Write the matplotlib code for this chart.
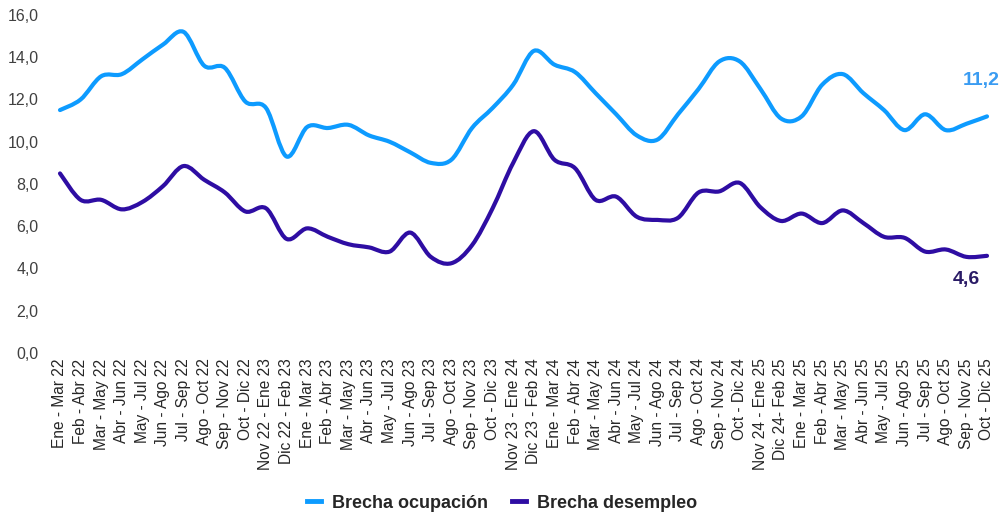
import numpy as np
import matplotlib
matplotlib.use("Agg")
import matplotlib.pyplot as plt
from matplotlib.path import Path
from matplotlib.patches import PathPatch
from matplotlib.lines import Line2D

plt.rcParams['font.family'] = ['Liberation Sans', 'DejaVu Sans']

# periods (rolling quarters)
periods = [
    "Ene - Mar 22", "Feb - Abr 22", "Mar - May 22", "Abr - Jun 22", "May - Jul 22",
    "Jun - Ago 22", "Jul - Sep 22", "Ago - Oct 22", "Sep - Nov 22", "Oct - Dic 22",
    "Nov 22 - Ene 23", "Dic 22 - Feb 23", "Ene - Mar 23", "Feb - Abr 23", "Mar - May 23",
    "Abr - Jun 23", "May - Jul 23", "Jun - Ago 23", "Jul - Sep 23", "Ago - Oct 23",
    "Sep - Nov 23", "Oct - Dic 23", "Nov 23 - Ene 24", "Dic 23 - Feb 24", "Ene - Mar 24",
    "Feb - Abr 24", "Mar - May 24", "Abr - Jun 24", "May - Jul 24", "Jun - Ago 24",
    "Jul - Sep 24", "Ago - Oct 24", "Sep - Nov 24", "Oct - Dic 24", "Nov 24 - Ene 25",
    "Dic 24- Feb 25", "Ene - Mar 25", "Feb - Abr 25", "Mar - May 25", "Abr - Jun 25",
    "May - Jul 25", "Jun - Ago 25", "Jul - Sep 25", "Ago - Oct 25", "Sep - Nov 25",
    "Oct - Dic 25",
]

brecha_ocupacion = [
    11.5, 12.0, 13.1, 13.2, 13.9, 14.6, 15.2, 13.6, 13.5, 11.9,
    11.6, 9.3, 10.7, 10.65, 10.8, 10.3, 10.0, 9.5, 9.0, 9.15,
    10.65, 11.6, 12.7, 14.3, 13.65, 13.3, 12.3, 11.3, 10.3, 10.1,
    11.3, 12.5, 13.8, 13.8, 12.5, 11.1, 11.2, 12.7, 13.2, 12.3,
    11.5, 10.55, 11.3, 10.55, 10.85, 11.2,
]

brecha_desempleo = [
    8.5, 7.25, 7.25, 6.8, 7.15, 7.9, 8.85, 8.2, 7.6, 6.7,
    6.85, 5.4, 5.9, 5.5, 5.15, 5.0, 4.8, 5.7, 4.55, 4.25,
    5.1, 6.85, 9.0, 10.5, 9.15, 8.75, 7.25, 7.4, 6.45, 6.3,
    6.4, 7.6, 7.65, 8.05, 6.9, 6.25, 6.6, 6.15, 6.75, 6.15,
    5.5, 5.45, 4.8, 4.9, 4.55, 4.6,
]

color_ocup = '#0D9BFF'
color_desemp = '#2E0DA3'


def smooth_path(x, y):
    # Catmull-Rom style bezier, like spreadsheet "smoothed line"
    pts = np.column_stack([x, y]).astype(float)
    n = len(pts)
    verts = [pts[0]]
    codes = [Path.MOVETO]
    for i in range(n - 1):
        p0 = pts[i - 1] if i > 0 else pts[i]
        p1 = pts[i]
        p2 = pts[i + 1]
        p3 = pts[i + 2] if i + 2 < n else pts[i + 1]
        c1 = p1 + (p2 - p0) / 6.0
        c2 = p2 - (p3 - p1) / 6.0
        verts += [c1, c2, p2]
        codes += [Path.CURVE4] * 3
    return Path(verts, codes)


fig = plt.figure(figsize=(10.05, 5.16), dpi=100)
ax = fig.add_axes([49.7 / 1005, 1 - 353 / 516, (997.3 - 49.7) / 1005, (353 - 15) / 516])

x = np.arange(len(periods))
for vals, col in [(brecha_ocupacion, color_ocup), (brecha_desempleo, color_desemp)]:
    patch = PathPatch(smooth_path(x, vals), facecolor='none', edgecolor=col,
                      linewidth=3.0, capstyle='round', joinstyle='round')
    ax.add_patch(patch)

ax.set_xlim(-0.5, len(periods) - 0.5)
ax.set_ylim(0, 16)
ax.set_yticks(np.arange(0, 17, 2))
ax.set_yticklabels([f"{v:.1f}".replace('.', ',') for v in np.arange(0, 17, 2)],
                   fontsize=11.5, color='#404040')
ax.set_xticks(x)
ax.set_xticklabels(periods, rotation=90, fontsize=11.2, color='#262626')
ax.tick_params(axis='both', length=0)
ax.tick_params(axis='x', pad=4)
ax.tick_params(axis='y', pad=8)
for s in ax.spines.values():
    s.set_visible(False)

# end labels
ax.annotate(f"{brecha_ocupacion[-1]:.1f}".replace('.', ','), (x[-1], brecha_ocupacion[-1]),
            xytext=(-4, 26), textcoords='offset points', ha='center', va='center',
            fontsize=14, fontweight='bold', color='#3A9CF2', annotation_clip=False)
ax.annotate(f"{brecha_desempleo[-1]:.1f}".replace('.', ','), (x[-1], brecha_desempleo[-1]),
            xytext=(-15, -17), textcoords='offset points', ha='center', va='center',
            fontsize=14, fontweight='bold', color='#2A1B66', annotation_clip=False)

handles = [Line2D([], [], color=color_ocup, linewidth=3.5),
           Line2D([], [], color=color_desemp, linewidth=3.5)]
leg = fig.legend(handles, ["Brecha ocupación", "Brecha desempleo"], loc='center',
                 bbox_to_anchor=(502 / 1005, 1 - 503 / 516), ncol=2, frameon=False,
                 handlelength=0.8, handletextpad=0.6, columnspacing=1.3,
                 prop={'size': 13, 'weight': 'bold'})
for t in leg.get_texts():
    t.set_color('#262626')

fig.savefig("out.png", dpi=100)
